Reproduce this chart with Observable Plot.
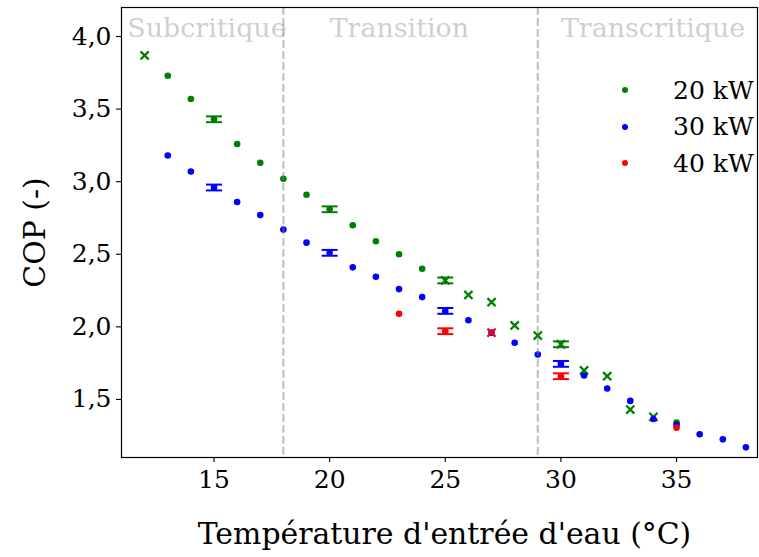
<!DOCTYPE html>
<html>
<head>
<meta charset="utf-8">
<script src="https://cdn.jsdelivr.net/npm/d3@7"></script>
<script src="https://cdn.jsdelivr.net/npm/@observablehq/plot@0.6"></script>
<style>
  body { margin: 0; background: #fff; }
  #wrap { position: relative; width: 759px; height: 557px; font-family: "DejaVu Serif", serif; }
  #legend { position: absolute; left: 612px; top: 72px; font-size: 25px; color: #000; }
  .row { display: flex; align-items: center; height: 36.5px; }
  .sw { width: 6px; height: 6px; border-radius: 50%; margin-left: 10px; margin-right: 45px; }
</style>
</head>
<body>
<div id="wrap"><div id="legend"></div></div>
<script>
// ---- data ----
const seriesNames = ["20 kW", "30 kW", "40 kW"];
const seriesColors = ["green", "blue", "red"];

const temps20 = [12, 13, 14, 15, 16, 17, 18, 19, 20, 21, 22, 23, 24, 25, 26, 27, 28, 29, 30, 31, 32, 33, 34, 35];
const cop20   = [3.87, 3.73, 3.57, 3.43, 3.26, 3.13, 3.02, 2.91, 2.81, 2.70, 2.59, 2.50, 2.40, 2.32, 2.22, 2.17, 2.01, 1.94, 1.88, 1.70, 1.66, 1.43, 1.38, 1.34];
const mark20  = ["x", "o", "o", "o", "o", "o", "o", "o", "o", "o", "o", "o", "o", "x", "x", "x", "x", "x", "x", "x", "x", "x", "x", "o"];

const temps30 = [13, 14, 15, 16, 17, 18, 19, 20, 21, 22, 23, 24, 25, 26, 27, 28, 29, 30, 31, 32, 33, 34, 35, 36, 37, 38];
const cop30   = [3.18, 3.07, 2.96, 2.86, 2.77, 2.67, 2.58, 2.51, 2.41, 2.345, 2.26, 2.205, 2.11, 2.045, 1.96, 1.89, 1.81, 1.745, 1.665, 1.575, 1.49, 1.365, 1.325, 1.26, 1.225, 1.17];
const mark30  = temps30.map(() => "o");

const temps40 = [23, 25, 27, 30, 35];
const cop40   = [2.09, 1.97, 1.96, 1.66, 1.305];
const mark40  = ["o", "o", "x", "o", "o"];

// error bars (same temperatures as the matching points)
const errTemps20 = [15, 20, 25, 30];
const errTemps30 = [15, 20, 25, 30];
const errTemps40 = [25, 30];
const errSize = 0.02;

const boundaries = [18, 29];
const regionLabels = ["Subcritique", "Transition", "Transcritique"];
const regionX = [11.25, 20, 30];
const regionY = [3.995, 3.995, 3.995];

const xTicks = [15, 20, 25, 30, 35];
const yTicks = [1.5, 2.0, 2.5, 3.0, 3.5, 4.0];
const xLabel = "Température d'entrée d'eau (°C)";
const yLabel = "COP (-)";

// ---- build tables ----
function rows(temps, cops, marks) {
  return temps.map((t, i) => ({ t, cop: cops[i], m: marks[i] }));
}
function errRows(errTemps, temps, cops) {
  return errTemps.map(t => ({ t, cop: cops[temps.indexOf(t)], err: errSize }));
}
const series = [
  { pts: rows(temps20, cop20, mark20), err: errRows(errTemps20, temps20, cop20) },
  { pts: rows(temps30, cop30, mark30), err: errRows(errTemps30, temps30, cop30) },
  { pts: rows(temps40, cop40, mark40), err: errRows(errTemps40, temps40, cop40) }
];

const capSymbol = { draw(ctx) { ctx.moveTo(-8, 0); ctx.lineTo(8, 0); } };

const marks = [];
series.forEach((s, k) => {
  const c = seriesColors[k];
  marks.push(Plot.ruleX(s.err, { x: "t", y1: d => d.cop - d.err, y2: d => d.cop + d.err, stroke: c, strokeWidth: 2 }));
  marks.push(Plot.dot(s.err, { x: "t", y: d => d.cop - d.err, symbol: capSymbol, fill: "none", stroke: c, strokeWidth: 2 }));
  marks.push(Plot.dot(s.err, { x: "t", y: d => d.cop + d.err, symbol: capSymbol, fill: "none", stroke: c, strokeWidth: 2 }));
  marks.push(Plot.dot(s.pts.filter(d => d.m === "o"), { x: "t", y: "cop", r: 3.3, fill: c, stroke: "none" }));
  marks.push(Plot.dot(s.pts.filter(d => d.m === "x"), { x: "t", y: "cop", symbol: "times", r: 3.8, fill: "none", stroke: c, strokeWidth: 2.3 }));
});

const fmt = d => d3.format(".1f")(d).replace(".", ",");

const chart = Plot.plot({
  width: 759,
  height: 557,
  marginLeft: 121,
  marginRight: 2,
  marginTop: 7,
  marginBottom: 100,
  style: { fontFamily: "DejaVu Serif", fontSize: "25px", background: "white", color: "black" },
  x: { domain: [11, 38.5] },
  y: { domain: [1.1, 4.2] },
  marks: [
    Plot.axisX({ ticks: xTicks, tickSize: 5, tickPadding: 8, label: null, strokeWidth: 1.1 }),
    Plot.axisY({ ticks: yTicks, tickSize: 5, tickPadding: 5, tickFormat: fmt, label: null, strokeWidth: 1.1 }),
    ...marks,
    Plot.ruleX(boundaries, { stroke: "gray", strokeOpacity: 0.5, strokeWidth: 2.1, strokeDasharray: "7.7,3.3" }),
    Plot.text(regionLabels, { x: (d, i) => regionX[i], y: (d, i) => regionY[i], text: d => d, textAnchor: "start", lineAnchor: "bottom", fill: "gray", fillOpacity: 0.4, fontSize: 26.9 }),
    Plot.text([xLabel], { text: d => d, frameAnchor: "bottom", dx: 5, dy: 86, fontSize: 29.9 }),
    Plot.text([yLabel], { text: d => d, frameAnchor: "left", textAnchor: "middle", dx: -86, rotate: -90, fontSize: 29.9 }),
    Plot.frame({ stroke: "black", strokeWidth: 1.2 })
  ]
});

const wrap = document.getElementById("wrap");
wrap.insertBefore(chart, wrap.firstChild);

const legend = document.getElementById("legend");
seriesNames.forEach((name, i) => {
  const row = document.createElement("div");
  row.className = "row";
  const sw = document.createElement("span");
  sw.className = "sw";
  sw.style.background = seriesColors[i];
  const tx = document.createElement("span");
  tx.textContent = name;
  row.appendChild(sw);
  row.appendChild(tx);
  legend.appendChild(row);
});
</script>
</body>
</html>
